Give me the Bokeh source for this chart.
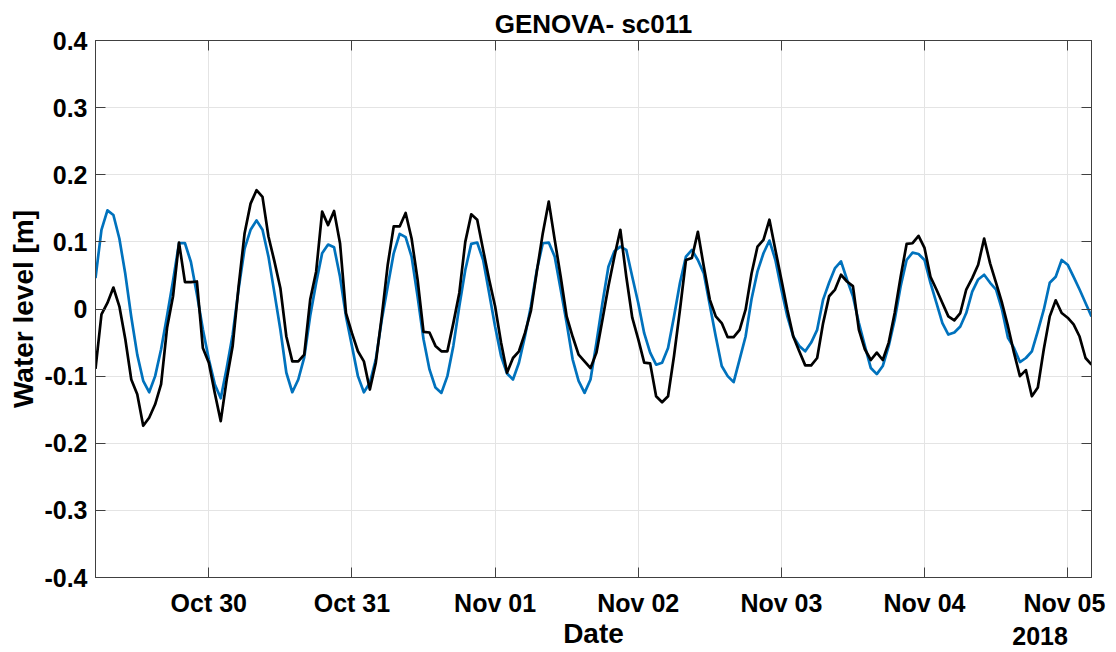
import pandas as pd
from bokeh.plotting import figure
from bokeh.models import (FixedTicker, DatetimeTickFormatter, LinearAxis, DatetimeAxis,
                          Range1d)
from bokeh.embed import file_html
from bokeh.resources import INLINE

# ---------------- data (hourly, starting 2018-10-29 05:00) ----------------
start_time = "2018-10-29 05:00"
end_time = "2018-11-05 04:00"

blue_series = [
    0.046, 0.118, 0.147, 0.140, 0.105, 0.052, -0.012, -0.068, -0.107, -0.124,
    -0.100, -0.060, -0.010, 0.042, 0.098, 0.098, 0.070, 0.022, -0.030, -0.075,
    -0.112, -0.133, -0.088, -0.038, 0.030, 0.090, 0.118, 0.132, 0.118, 0.078,
    0.024, -0.031, -0.095, -0.124, -0.105, -0.072, -0.010, 0.039, 0.083, 0.096,
    0.092, 0.048, -0.011, -0.055, -0.100, -0.124, -0.110, -0.075, -0.016, 0.034,
    0.083, 0.112, 0.107, 0.078, 0.019, -0.045, -0.090, -0.117, -0.125, -0.100,
    -0.055, 0.004, 0.058, 0.097, 0.099, 0.073, 0.024, -0.026, -0.070, -0.096,
    -0.105, -0.080, -0.041, 0.004, 0.058, 0.098, 0.099, 0.078, 0.029, -0.021,
    -0.075, -0.107, -0.125, -0.105, -0.050, 0.009, 0.063, 0.086, 0.093, 0.088,
    0.048, 0.009, -0.036, -0.065, -0.083, -0.080, -0.058, -0.011, 0.039, 0.078,
    0.088, 0.073, 0.053, 0.006, -0.041, -0.085, -0.100, -0.109, -0.075, -0.041,
    0.015, 0.056, 0.083, 0.102, 0.073, 0.029, -0.011, -0.041, -0.055, -0.063,
    -0.050, -0.031, 0.014, 0.039, 0.061, 0.071, 0.044, 0.019, -0.021, -0.055,
    -0.088, -0.097, -0.085, -0.055, -0.016, 0.034, 0.073, 0.084, 0.082, 0.073,
    0.039, 0.009, -0.021, -0.038, -0.035, -0.026, -0.006, 0.026, 0.044, 0.051,
    0.039, 0.029, -0.001, -0.043, -0.058, -0.079, -0.073, -0.063, -0.033, -0.001,
    0.039, 0.048, 0.073, 0.066, 0.048, 0.029, 0.009, -0.011,
]

black_series = [
    -0.089, -0.008, 0.009, 0.032, 0.004, -0.045, -0.105, -0.127, -0.174, -0.162,
    -0.142, -0.112, -0.028, 0.019, 0.099, 0.040, 0.040, 0.041, -0.058, -0.080,
    -0.125, -0.167, -0.105, -0.055, 0.034, 0.113, 0.157, 0.177, 0.167, 0.108,
    0.071, 0.031, -0.041, -0.078, -0.078, -0.068, 0.014, 0.056, 0.145, 0.125,
    0.146, 0.098, -0.006, -0.036, -0.063, -0.078, -0.120, -0.080, -0.011, 0.066,
    0.123, 0.123, 0.143, 0.105, 0.044, -0.034, -0.035, -0.055, -0.063, -0.063,
    -0.021, 0.024, 0.100, 0.141, 0.133, 0.088, 0.044, 0.004, -0.050, -0.095,
    -0.073, -0.063, -0.036, -0.003, 0.056, 0.113, 0.160, 0.103, 0.048, -0.011,
    -0.041, -0.068, -0.078, -0.088, -0.065, -0.016, 0.034, 0.078, 0.118, 0.048,
    -0.013, -0.045, -0.080, -0.081, -0.130, -0.139, -0.130, -0.070, -0.001, 0.073,
    0.076, 0.115, 0.063, 0.014, -0.011, -0.021, -0.042, -0.042, -0.031, -0.001,
    0.053, 0.093, 0.103, 0.133, 0.088, 0.044, -0.001, -0.041, -0.063, -0.084,
    -0.084, -0.073, -0.021, 0.019, 0.029, 0.051, 0.041, 0.034, -0.031, -0.060,
    -0.076, -0.065, -0.076, -0.050, -0.006, 0.048, 0.097, 0.098, 0.109, 0.091,
    0.048, 0.029, 0.009, -0.011, -0.017, -0.006, 0.029, 0.046, 0.066, 0.105,
    0.068, 0.039, 0.009, -0.026, -0.065, -0.100, -0.091, -0.130, -0.117, -0.060,
    -0.011, 0.013, -0.006, -0.013, -0.023, -0.041, -0.073, -0.083,
]

x_tick_dates = ["2018-10-30", "2018-10-31", "2018-11-01", "2018-11-02",
                "2018-11-03", "2018-11-04", "2018-11-05"]
y_ticks = [-0.4, -0.3, -0.2, -0.1, 0, 0.1, 0.2, 0.3, 0.4]
y_tick_labels = ["-0.4", "-0.3", "-0.2", "-0.1", "0", "0.1", "0.2", "0.3", "0.4"]

title_text = "GENOVA- sc011"
x_label = "Date"
y_label = "Water level [m]"
year_text = "2018"

# ---------------- build ----------------
times = pd.date_range(start_time, periods=len(blue_series), freq="h")


def ms(t):
    return pd.Timestamp(t).value / 1e6


FONT = "Liberation Sans"
AXC = "#404040"
GRIDC = "#e4e4e4"

p = figure(width=1116, height=652, output_backend="svg", toolbar_location=None,
           x_axis_type="datetime",
           x_range=Range1d(ms(start_time), ms(end_time)), y_range=Range1d(-0.4, 0.4),
           min_border_left=95, min_border_right=25, min_border_top=40,
           min_border_bottom=73, background_fill_color="white",
           border_fill_color="white")

p.line(times, blue_series, line_color="#0072BD", line_width=2.7, line_join="round")
p.line(times, black_series, line_color="black", line_width=2.7, line_join="round")

xt = [ms(d) for d in x_tick_dates]
fmt = "%b %d"
dt_fmt = DatetimeTickFormatter(milliseconds=fmt, seconds=fmt, minsec=fmt, minutes=fmt,
                               hourmin=fmt, hours=fmt, days=fmt, months=fmt, years=fmt)

xa = p.xaxis[0]
xa.ticker = FixedTicker(ticks=xt)
xa.formatter = dt_fmt
# last tick carries the year on a second line (right-aligned under the tick)
pad = "\u00a0" * 7
xa.major_label_overrides = {xt[-1]: "Nov 05\n" + year_text + pad}
xa.axis_label = x_label
xa.axis_label_standoff = -35

ya = p.yaxis[0]
ya.ticker = FixedTicker(ticks=y_ticks)
ya.major_label_overrides = {v: s for v, s in zip(y_ticks, y_tick_labels)}
ya.axis_label = y_label
ya.axis_label_standoff = 2

for ax in (xa, ya):
    ax.major_label_text_font = FONT
    ax.major_label_text_font_style = "bold"
    ax.major_label_text_font_size = "25px"
    ax.major_label_text_color = "black"
    ax.axis_label_text_font = FONT
    ax.axis_label_text_font_style = "bold"
    ax.axis_label_text_font_size = "28px"
    ax.axis_label_text_color = "black"
    ax.major_tick_in = 10
    ax.major_tick_out = 0
    ax.minor_tick_line_color = None
    ax.axis_line_color = AXC
    ax.major_tick_line_color = AXC
xa.major_label_standoff = 11
ya.major_label_standoff = 8

# mirrored axes (box with inward ticks)
ra = LinearAxis(ticker=FixedTicker(ticks=y_ticks), major_label_text_font_size="0px",
                major_label_standoff=0, major_tick_in=10, major_tick_out=0,
                minor_tick_line_color=None, axis_line_color=AXC, major_tick_line_color=AXC)
p.add_layout(ra, "right")
ta = DatetimeAxis(ticker=FixedTicker(ticks=xt), major_label_text_font_size="0px",
                  major_label_standoff=0, major_tick_in=10, major_tick_out=0,
                  minor_tick_line_color=None, axis_line_color=AXC, major_tick_line_color=AXC)
p.add_layout(ta, "above")

p.xgrid.grid_line_color = GRIDC
p.ygrid.grid_line_color = GRIDC
p.outline_line_color = AXC

p.title.text = title_text
p.title.align = "center"
p.title.text_font = FONT
p.title.text_font_style = "bold"
p.title.text_font_size = "26px"
p.title.text_color = "black"
p.title.standoff = 3

open("out.html", "w").write(file_html(p, INLINE))
